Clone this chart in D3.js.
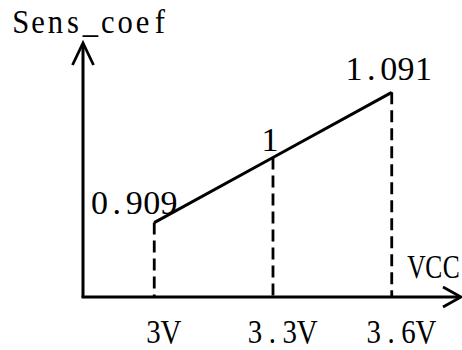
<!DOCTYPE html>
<html>
<head>
<meta charset="utf-8">
<script src="https://cdn.jsdelivr.net/npm/d3@7"></script>
<style>
  html, body { margin: 0; padding: 0; background: #fff; }
  svg text { font-family: "Liberation Serif", "DejaVu Serif", serif; font-size: 34px; fill: #000; }
</style>
</head>
<body>
<svg id="chart" width="462" height="350"></svg>
<script>
const voltages = [3, 3.3, 3.6];
const coefs = [0.909, 1, 1.091];
const coefLabels = ["0.909", "1", "1.091"];
const voltLabels = ["3V", "3.3V", "3.6V"];
const yTitle = "Sens_coef";
const xTitle = "VCC";

const svg = d3.select("#chart");
const PITCH = 17.4; // fixed-pitch cells, like the original CJK font

const x = d3.scaleLinear().domain([2.82, 3.775]).range([83, 461]);
const y = d3.scaleLinear().domain([0.805, 1.16]).range([297, 43]);

// draw text char by char in fixed-width cells, centred on cx
// sx squeezes the glyphs sideways (cells stay the same)
function monoText(str, cx, baseline, sx = 1) {
  const w = str.length * PITCH;
  const xs = str.split("").map((c, i) => (-w / 2 + PITCH * (i + 0.5)) / sx);
  return svg.append("text")
    .attr("transform", `translate(${cx},${baseline}) scale(${sx},1)`)
    .attr("x", xs.join(" "))
    .attr("y", 0)
    .attr("text-anchor", "middle")
    .text(str);
}

const x0 = x.range()[0], x1 = x.range()[1];
const y0 = y.range()[0], y1 = y.range()[1];

// axes
svg.append("line").attr("x1", x0).attr("y1", y0).attr("x2", x0).attr("y2", y1 + 1)
  .attr("stroke", "#000").attr("stroke-width", 3);
svg.append("line").attr("x1", x0 - 1.5).attr("y1", y0).attr("x2", x1 - 1).attr("y2", y0)
  .attr("stroke", "#000").attr("stroke-width", 3);

// open arrow heads
svg.append("path")
  .attr("d", `M${x0 - 10.5},${y1 + 22}L${x0},${y1}L${x0 + 10.5},${y1 + 22}`)
  .attr("fill", "none").attr("stroke", "#000").attr("stroke-width", 2.8);
svg.append("path")
  .attr("d", `M${x1 - 18},${y0 - 10}L${x1},${y0}L${x1 - 18},${y0 + 10}`)
  .attr("fill", "none").attr("stroke", "#000").attr("stroke-width", 2.8);

// dashed drop lines
svg.selectAll(".drop")
  .data(voltages)
  .enter()
  .append("line")
  .attr("class", "drop")
  .attr("x1", d => x(d))
  .attr("x2", d => x(d))
  .attr("y1", (d, i) => y(coefs[i]))
  .attr("y2", y0)
  .attr("stroke", "#000")
  .attr("stroke-width", 2.8)
  .attr("stroke-dasharray", "12,6");

// the line itself
const line = d3.line().x(d => x(d[0])).y(d => y(d[1]));
svg.append("path")
  .datum(voltages.map((v, i) => [v, coefs[i]]))
  .attr("d", line)
  .attr("fill", "none")
  .attr("stroke", "#000")
  .attr("stroke-width", 3);

// value labels
coefLabels.forEach((t, i) => {
  const dx = i === 0 ? -20 : -3;
  const dy = i === 0 ? -9 : (i === 1 ? -6 : -12);
  monoText(t, x(voltages[i]) + dx, y(coefs[i]) + dy);
});

// tick labels
voltLabels.forEach((t, i) => {
  monoText(t, x(voltages[i]) + 8, y0 + 46, 0.85);
});

// axis titles
monoText(yTitle, x0 - 71 + yTitle.length * PITCH / 2, y1 - 10, 0.9);
monoText(xTitle, x(3.6) + 16 + xTitle.length * PITCH / 2, y0 - 19, 0.75);
</script>
</body>
</html>
